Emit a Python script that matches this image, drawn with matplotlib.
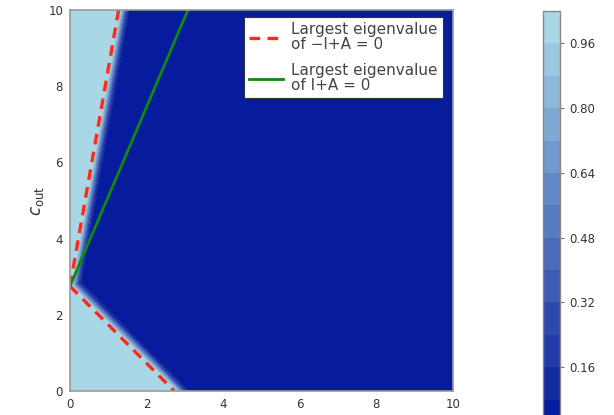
import numpy as np
import matplotlib
matplotlib.use("Agg")
import matplotlib.pyplot as plt
from matplotlib.colors import LinearSegmentedColormap

# ---- data ----
c_in_range = [0, 10]
c_out_range = [0, 10]
apex_c_out = 2.75          # where all three lines meet on the c_out axis
upper_red_top_c_in = 1.27  # upper dashed line reaches c_out=10 here
lower_red_bottom_c_in = 2.72  # lower dashed line reaches c_out=0 here
green_top_c_in = 3.08      # green line reaches c_out=10 here
edge_width = 0.17          # blur width of the transition (data units)
levels = np.arange(0, 1.0401, 0.08)
cbar_ticks = [0.16, 0.32, 0.48, 0.64, 0.80, 0.96]
x_ticks = [0, 2, 4, 6, 8, 10]
y_ticks = [0, 2, 4, 6, 8, 10]
legend_labels = ["Largest eigenvalue\nof \u2212I+A = 0",
                 "Largest eigenvalue\nof I+A = 0"]

# ---- field ----
x = np.linspace(0, 10, 600)
y = np.linspace(0, 10, 600)
X, Y = np.meshgrid(x, y)
s_up = (10 - apex_c_out) / upper_red_top_c_in
s_lo = -apex_c_out / lower_red_bottom_c_in
# signed distances (positive on dark side)
d_up = (s_up * X - (Y - apex_c_out)) / np.hypot(s_up, 1)
d_lo = ((Y - apex_c_out) - s_lo * X) / np.hypot(s_lo, 1)
d = np.minimum(d_up, d_lo)
Z = np.where(d <= 0, 1.0, np.exp(-(d / edge_width) ** 2))

cmap = LinearSegmentedColormap.from_list(
    "bl", [(0.0, 0.08, 0.60), (0.69, 0.87, 0.91)])

fig = plt.figure(figsize=(6.14, 4.15), dpi=100)
ax = fig.add_axes([70 / 614, (415 - 391) / 415, 383 / 614, 381 / 415])
cf = ax.contourf(X, Y, Z, levels=levels, cmap=cmap, vmin=0, vmax=1.04)

line_x_up = np.array([0, upper_red_top_c_in])
ax.plot(line_x_up, apex_c_out + s_up * line_x_up, color="#ff2a1a",
        lw=2.4, ls=(0, (3.2, 2.2)), label=legend_labels[0])
line_x_lo = np.array([0, lower_red_bottom_c_in])
ax.plot(line_x_lo, apex_c_out + s_lo * line_x_lo, color="#ff2a1a",
        lw=2.4, ls=(0, (3.2, 2.2)))
s_g = (10 - apex_c_out) / green_top_c_in
line_x_g = np.array([0, green_top_c_in])
ax.plot(line_x_g, apex_c_out + s_g * line_x_g, color="#118811",
        lw=2.0, label=legend_labels[1])

ax.set_xlim(c_in_range)
ax.set_ylim(c_out_range)
ax.set_xticks(x_ticks)
ax.set_yticks(y_ticks)
ax.tick_params(length=0, pad=5, labelsize=8.5, labelcolor="#333333")
for sp in ax.spines.values():
    sp.set_color("#999999")
    sp.set_linewidth(1.2)
ax.set_ylabel("$c_{\\rm out}$", fontsize=12, color="#333333", labelpad=1.5)

leg = ax.legend(loc="upper right", bbox_to_anchor=(443 / 614, 1 - 17 / 415),
                bbox_transform=fig.transFigure, borderaxespad=0,
                fontsize=11, fancybox=False,
                framealpha=1, edgecolor="#333333", handlelength=2.2,
                labelspacing=0.75, handletextpad=0.55,
                borderpad=0.35)
for t in leg.get_texts():
    t.set_color("#444444")
    t.set_linespacing(0.95)
leg.get_frame().set_linewidth(0.8)

cax = fig.add_axes([543 / 614, (415 - 432) / 415, 17 / 614, 421 / 415])
cb = fig.colorbar(cf, cax=cax, ticks=cbar_ticks)
cb.ax.set_yticklabels([f"{t:.2f}" for t in cbar_ticks])
cb.ax.tick_params(labelsize=8.5, labelcolor="#333333", length=3,
                  color="#777777")
cb.outline.set_edgecolor("#888888")
cb.outline.set_linewidth(1.0)

fig.savefig("out.png", dpi=100)
